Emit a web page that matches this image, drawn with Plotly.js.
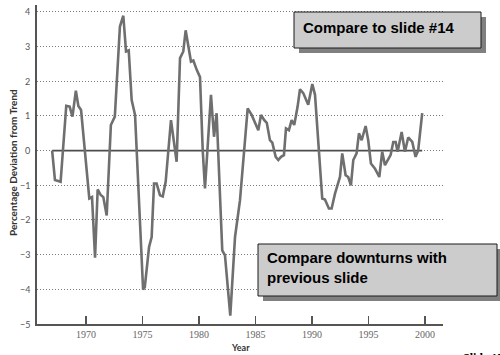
<!DOCTYPE html>
<html>
<head>
<meta charset="utf-8">
<script src="https://cdn.plot.ly/plotly-3.0.1.min.js"></script>
<style>
  html, body { margin: 0; padding: 0; background: #ffffff; }
  #chart { width: 500px; height: 355px; }
</style>
</head>
<body>
<div id="chart"></div>
<script>
// Quarterly GDP deviation from trend, in percent
const years = [
  1967.0, 1967.25, 1967.75, 1968.25, 1968.55, 1968.8, 1969.1, 1969.32, 1969.56,
  1970.06, 1970.29, 1970.53, 1970.8, 1971.03, 1971.3, 1971.53, 1971.83,
  1972.2, 1972.55, 1973.0, 1973.3, 1973.54, 1973.78, 1974.04, 1974.34,
  1975.05, 1975.2, 1975.58, 1975.81, 1976.02, 1976.25, 1976.55, 1976.79,
  1977.05, 1977.52, 1978.02, 1978.32, 1978.61, 1978.82, 1979.29, 1979.5, 1979.8,
  1980.09, 1980.33, 1980.53, 1981.06, 1981.33, 1981.56, 1982.06, 1982.3, 1982.77,
  1983.19, 1983.63, 1984.31, 1984.66, 1985.25, 1985.49, 1985.78, 1986.0,
  1986.28, 1986.49, 1986.79, 1987.02, 1987.26, 1987.52, 1987.7, 1987.96,
  1988.2, 1988.43, 1988.73, 1988.94, 1989.23, 1989.67, 1990.03, 1990.27,
  1990.91, 1991.15, 1991.5, 1991.74, 1992.04, 1992.27, 1992.48, 1992.68,
  1992.98, 1993.21, 1993.45, 1993.66, 1993.95, 1994.16, 1994.4, 1994.75,
  1994.98, 1995.22, 1995.58, 1995.96, 1996.22, 1996.46, 1996.75, 1996.96,
  1997.2, 1997.41, 1997.58, 1997.94, 1998.23, 1998.52, 1998.88, 1999.17,
  1999.4, 1999.76
];
const deviation = [
  0, -0.85, -0.9, 1.29, 1.27, 0.98, 1.73, 1.29, 1.17,
  -0.66, -1.38, -1.34, -3.09, -1.12, -1.28, -1.34, -1.87,
  0.74, 0.98, 3.58, 3.89, 2.86, 2.89, 1.46, 1.03,
  -4.0, -3.94, -2.78, -2.49, -0.95, -0.95, -1.29, -1.32,
  -0.9, 0.88, -0.32, 2.67, 2.86, 3.47, 2.57, 2.6, 2.33,
  2.12, 0.01, -1.09, 1.61, 0.4, 1.08, -2.88, -3.02, -4.76,
  -2.49, -1.43, 1.22, 1.03, 0.59, 1.03, 0.88, 0.8,
  0.3, 0.23, -0.18, -0.27, -0.18, -0.13, 0.64, 0.59,
  0.88, 0.74, 1.27, 1.77, 1.66, 1.32, 1.92, 1.61,
  -1.38, -1.41, -1.67, -1.67, -1.24, -0.95, -0.76, -0.08,
  -0.71, -0.76, -1.0, -0.27, -0.08, 0.5, 0.3, 0.71,
  0.3, -0.37, -0.52, -0.76, -0.03, -0.42, -0.27, -0.13,
  0.25, 0.25, -0.03, 0.54, -0.03, 0.38, 0.25, -0.18,
  0.0, 1.08
];
const xTicks = [1970, 1975, 1980, 1985, 1990, 1995, 2000];
const yTicks = [-5, -4, -3, -2, -1, 0, 1, 2, 3, 4];

const W = 500, H = 355;
const M = { l: 37, r: 57, t: 5, b: 31 };
const PW = W - M.l - M.r, PH = H - M.t - M.b;
// pixel -> paper helpers for callouts and labels
const px = v => (v - M.l) / PW;
const py = v => (H - M.b - v) / PH;

const trend = {
  x: [years[0], years[years.length - 1]],
  y: [0, 0],
  mode: 'lines',
  line: { color: '#4d4d4d', width: 1.6 },
  hoverinfo: 'skip',
  showlegend: false
};
const series = {
  x: years,
  y: deviation,
  mode: 'lines',
  line: { color: '#6f6f6f', width: 2.6 },
  showlegend: false
};

function callout(x0, y0, x1, y1) {
  return [
    { type: 'rect', xref: 'paper', yref: 'paper', layer: 'above',
      x0: px(x0 + 5), x1: px(x1 + 5), y0: py(y1 + 5), y1: py(y0 + 5),
      fillcolor: '#808080', line: { width: 0 } },
    { type: 'rect', xref: 'paper', yref: 'paper', layer: 'above',
      x0: px(x0), x1: px(x1), y0: py(y1), y1: py(y0),
      fillcolor: '#cccccc', line: { color: '#1a1a1a', width: 1 } }
  ];
}

const boxFont = { family: 'Liberation Sans, Arial, sans-serif', size: 15, color: '#000000' };

// value labels for the deviation axis, placed on the y scale just left of the axis line
const yTickLabels = yTicks.map(v => ({
  xref: 'paper', yref: 'y', x: px(32), y: v,
  text: (v < 0 ? '\u2212' : '') + Math.abs(v),
  showarrow: false, xanchor: 'right', yanchor: 'middle',
  font: { family: 'Lato, sans-serif', size: 9, color: '#555555' }
}));

const layout = {
  width: W, height: H,
  margin: M,
  paper_bgcolor: '#ffffff',
  plot_bgcolor: '#ffffff',
  xaxis: {
    range: [1965.66, 2001.6],
    tickvals: xTicks,
    ticktext: xTicks.map(String),
    ticks: 'inside', ticklen: 8, tickwidth: 1.2, tickcolor: '#555555',
    showgrid: false, zeroline: false,
    showline: true, linecolor: '#555555', linewidth: 1.6,
    tickfont: { family: 'Liberation Serif, serif', size: 10, color: '#666666' }
  },
  yaxis: {
    range: [-5, 4.2],
    tickvals: yTicks,
    ticks: '',
    showticklabels: false,
    showgrid: true, gridcolor: '#7a7a7a', gridwidth: 1, griddash: '1px,2px',
    zeroline: false,
    showline: true, linecolor: '#555555', linewidth: 1.6
  },
  shapes: [].concat(callout(294, 12, 481, 48), callout(258, 244, 497, 296)),
  annotations: yTickLabels.concat([
    { xref: 'paper', yref: 'paper', x: px(13), y: py(163), text: '<b>Percentage Deviation from Trend</b>',
      textangle: -90, showarrow: false, xanchor: 'center', yanchor: 'middle',
      font: { family: 'Lato, sans-serif', size: 10, color: '#333333' } },
    { xref: 'paper', yref: 'paper', x: px(240), y: py(347), text: '<b>Year</b>',
      showarrow: false, xanchor: 'center', yanchor: 'middle',
      font: { family: 'Lato, sans-serif', size: 9, color: '#333333' } },
    { xref: 'paper', yref: 'paper', x: px(301), y: py(27), text: '<b>Compare to slide #14</b>',
      showarrow: false, xanchor: 'left', yanchor: 'middle', font: boxFont },
    { xref: 'paper', yref: 'paper', x: px(265), y: py(267), text: '<b>Compare downturns with<br>previous slide</b>',
      showarrow: false, xanchor: 'left', yanchor: 'middle', align: 'left', font: boxFont },
    { xref: 'paper', yref: 'paper', x: px(461), y: py(349), text: '<b>Slide 15</b>',
      showarrow: false, xanchor: 'left', yanchor: 'top',
      font: { family: 'Liberation Serif, serif', size: 12, color: '#000000' } }
  ])
};

Plotly.newPlot('chart', [trend, series], layout, { displayModeBar: false, staticPlot: true });
</script>
</body>
</html>
